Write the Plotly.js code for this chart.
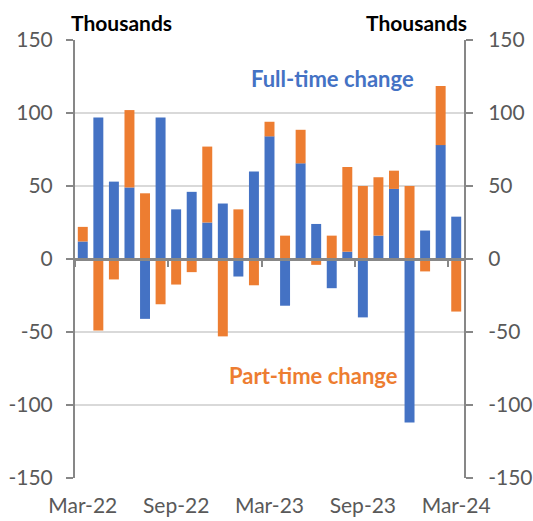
<!DOCTYPE html>
<html>
<head>
<meta charset="utf-8">
<script src="https://cdn.plot.ly/plotly-3.0.1.min.js"></script>
<style>
html,body{margin:0;padding:0;background:#fff;}
#chart{width:533px;height:521px;}
</style>
</head>
<body>
<div id="chart"></div>
<script>
const months = ["Mar-22","Apr-22","May-22","Jun-22","Jul-22","Aug-22","Sep-22","Oct-22","Nov-22","Dec-22",
  "Jan-23","Feb-23","Mar-23","Apr-23","May-23","Jun-23","Jul-23","Aug-23","Sep-23","Oct-23","Nov-23","Dec-23",
  "Jan-24","Feb-24","Mar-24"];
const fullTime = [12, 97, 53, 49, -41, 97, 34, 46, 25, 38, -12, 60, 84, -32, 65.5, 24, -20, 5, -40, 16, 48, -112, 19.5, 78, 29];
const partTime = [10, -49, -14, 53, 45, -31, -17.5, -9, 52, -53, 34, -18, 10, 16, 23, -4, 16, 58, 50, 40, 12.5, 50, -8.5, 40.5, -36];
const tickLabels = ["Mar-22","Sep-22","Mar-23","Sep-23","Mar-24"];
const yTickVals = [-150, -100, -50, 0, 50, 100, 150];
const yTickText = ["-150", "-100", "-50", "0", "50", "100", "150"];

const FONT = "Lato, 'Open Sans', sans-serif";
const BLUE = "#4472C4", ORANGE = "#ED7D31", AXIS = "#878787", TXT = "#595959";

const traces = [
  {type:"bar", x:months, y:fullTime, name:"Full-time change", marker:{color:BLUE}, hoverinfo:"x+y"},
  {type:"bar", x:months, y:partTime, name:"Part-time change", marker:{color:ORANGE}, hoverinfo:"x+y"},
  {type:"scatter", mode:"markers", x:[0,24], y:[0,0], xaxis:"x2", yaxis:"y2",
   marker:{opacity:0}, hoverinfo:"skip", showlegend:false}
];

const TICKFONT = {size:21, color:TXT, family:FONT};

const layout = {
  width:533, height:521,
  margin:{l:75, r:69, t:40, b:43},
  paper_bgcolor:"#fff", plot_bgcolor:"#fff",
  barmode:"relative", bargap:0.36,
  showlegend:false,
  font:{family:FONT, color:TXT, size:21},
  xaxis:{type:"category", range:[-0.5,24.5], tickvals:tickLabels, ticktext:tickLabels,
         ticks:"", showline:false, showgrid:false, zeroline:false,
         tickfont:TICKFONT, ticklabelstandoff:13, fixedrange:true},
  xaxis2:{overlaying:"x", anchor:"free", position:0.5, type:"linear", range:[-0.5,24.5],
          tickmode:"linear", tick0:-0.5, dtick:6, ticks:"outside", ticklen:6, tickwidth:2,
          tickcolor:AXIS, showline:true, linecolor:AXIS, linewidth:3, showgrid:false,
          zeroline:false, showticklabels:false, layer:"above traces"},
  yaxis:{range:[-150,150], tickmode:"array", tickvals:yTickVals, ticktext:yTickText, showline:true, linecolor:AXIS,
         linewidth:2, ticks:"outside", ticklen:7, tickwidth:2, tickcolor:AXIS,
         showgrid:true, gridcolor:"#d9d9d9", gridwidth:1.5, zeroline:false,
         tickfont:TICKFONT, ticklabelstandoff:9},
  yaxis2:{overlaying:"y", side:"right", anchor:"x", range:[-150,150], tickmode:"array", tickvals:yTickVals, ticktext:yTickText,
          showline:true, linecolor:AXIS, linewidth:2, ticks:"outside", ticklen:7, tickwidth:2,
          tickcolor:AXIS, showgrid:false, zeroline:false,
          tickfont:TICKFONT, ticklabelstandoff:11},
  annotations:[
    {text:"<b>Thousands</b>", xref:"paper", yref:"paper", x:-0.015, y:1.041, xanchor:"left", yanchor:"middle",
     showarrow:false, font:{size:21, color:"#000", family:FONT}},
    {text:"<b>Thousands</b>", xref:"paper", yref:"paper", x:1.012, y:1.041, xanchor:"right", yanchor:"middle",
     showarrow:false, font:{size:21, color:"#000", family:FONT}},
    {text:"<b>Full-time change</b>", xref:"paper", yref:"paper", x:0.661, y:0.911, xanchor:"center", yanchor:"middle",
     showarrow:false, font:{size:22, color:BLUE, family:FONT}},
    {text:"<b>Part-time change</b>", xref:"paper", yref:"paper", x:0.614, y:0.233, xanchor:"center", yanchor:"middle",
     showarrow:false, font:{size:22, color:ORANGE, family:FONT}}
  ]
};

Plotly.newPlot("chart", traces, layout, {displayModeBar:false, staticPlot:true});
</script>
</body>
</html>
